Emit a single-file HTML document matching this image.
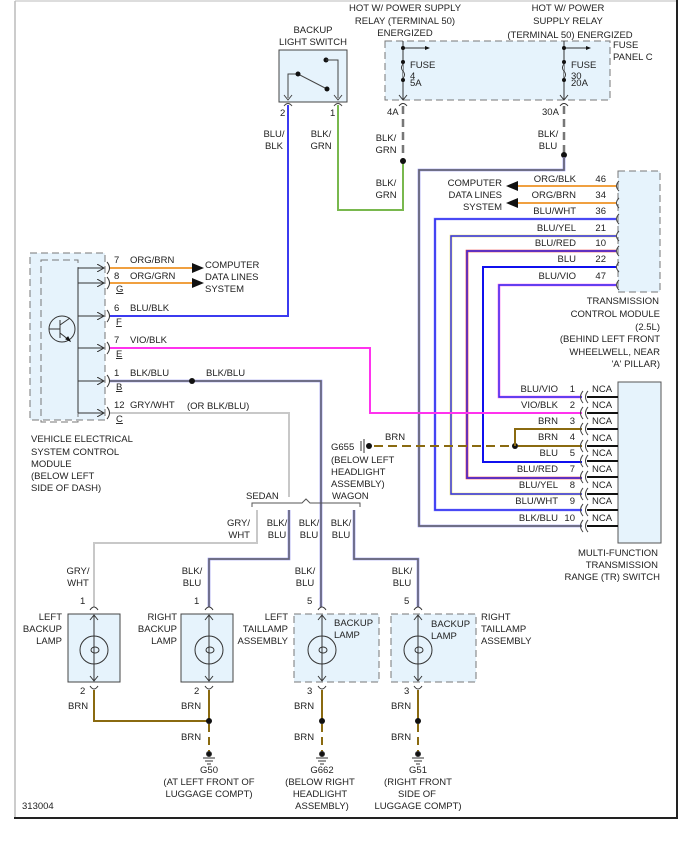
<!DOCTYPE html>
<html><head><meta charset="utf-8"><style>
html,body{margin:0;padding:0;background:#fff;}
svg{display:block;font-family:"Liberation Sans",sans-serif;font-size:9.5px;fill:#222;}
text{fill:#222;}
.r{text-anchor:end}.m{text-anchor:middle}
</style></head><body>
<svg width="692" height="845" viewBox="0 0 692 845" xmlns="http://www.w3.org/2000/svg">
<defs>
<marker id="ar" markerWidth="8" markerHeight="8" refX="7" refY="4" orient="auto" markerUnits="userSpaceOnUse"><path d="M0,0 L7,4 L0,8" fill="none" stroke="#333" stroke-width="1"/></marker>
</defs>
<line x1="15" y1="1" x2="677" y2="1" stroke="#bbb" stroke-width="1"/>
<line x1="15" y1="1" x2="15" y2="818" stroke="#bbb" stroke-width="1.5"/>
<line x1="677" y1="0" x2="677" y2="818" stroke="#222" stroke-width="2"/>
<line x1="14" y1="818" x2="678" y2="818" stroke="#222" stroke-width="2"/>

<text class="m" x="405" y="11">HOT W/ POWER SUPPLY</text>
<text class="m" x="405" y="24">RELAY (TERMINAL 50)</text>
<text class="m" x="405" y="36">ENERGIZED</text>
<text class="m" x="568" y="11">HOT W/ POWER</text>
<text class="m" x="568" y="24">SUPPLY RELAY</text>
<text class="m" x="570" y="38">(TERMINAL 50) ENERGIZED</text>
<text x="613" y="48">FUSE</text>
<text x="613" y="60">PANEL C</text>
<text class="m" x="313" y="33">BACKUP</text>
<text class="m" x="313" y="45">LIGHT SWITCH</text>

<rect x="279" y="50" width="68" height="52" fill="#e6f3fc" stroke="#444" stroke-width="1"/>
<path d="M288,98 V74 H298 L327,89" fill="none" stroke="#444"/>
<circle cx="298" cy="74" r="2.5" fill="#111"/><circle cx="327" cy="89" r="2.5" fill="#111"/>
<circle cx="326" cy="60" r="2.5" fill="#111"/>
<path d="M326,60 H338 V98" fill="none" stroke="#444"/>
<path d="M284,95 L288,100 L292,95 M334,95 L338,100 L342,95" fill="none" stroke="#444"/>
<path d="M284,106 Q288,101 292,106 M334,106 Q338,101 342,106" fill="none" stroke="#444"/>
<text x="280" y="116">2</text><text x="330" y="116">1</text>

<rect x="385" y="41" width="225" height="59" fill="#e6f3fc" stroke="#777" stroke-dasharray="7,4"/>
<g stroke="#333" fill="none">
<line x1="403" y1="41" x2="403" y2="100"/><line x1="403" y1="48" x2="425" y2="48"/>
<path d="M399,95 L403,100 L407,95"/>
<line x1="564" y1="41" x2="564" y2="100"/><line x1="564" y1="48" x2="586" y2="48"/>
<path d="M560,95 L564,100 L568,95"/>
<path d="M399,106 Q403,101 407,106 M560,106 Q564,101 568,106"/>
</g>
<path d="M425,46 L425,50 L430,48 Z M586,46 L586,50 L591,48Z" fill="#111"/>
<g fill="#111"><circle cx="403" cy="48" r="2"/><circle cx="403" cy="62" r="2"/><circle cx="403" cy="80" r="2"/>
<circle cx="564" cy="48" r="2"/><circle cx="564" cy="62" r="2"/><circle cx="564" cy="80" r="2"/></g>
<path d="M403,64 q-3,4 0,7 q3,4 0,7 M564,64 q-3,4 0,7 q3,4 0,7" fill="#e6f3fc" stroke="#333"/>
<text x="410" y="68">FUSE</text><text x="410" y="79">4</text><text x="410" y="86">5A</text>
<text x="571" y="68">FUSE</text><text x="571" y="79">30</text><text x="571" y="86">20A</text>
<text x="387" y="115">4A</text><text x="542" y="115">30A</text>

<path d="M288,105 V316 H110" fill="none" stroke="#3b3bf0" stroke-width="2"/>
<path d="M338,105 V210 H403 V162" fill="none" stroke="#79b84e" stroke-width="2"/>
<line x1="403" y1="106" x2="403" y2="160" stroke="#777" stroke-width="2.5" stroke-dasharray="8,5"/>
<circle cx="403" cy="161" r="3" fill="#111"/>
<line x1="564" y1="106" x2="564" y2="154" stroke="#777" stroke-width="2.5" stroke-dasharray="8,5"/>
<circle cx="564" cy="155" r="3" fill="#111"/>
<path d="M564,157 V170 H419 V526 H582" fill="none" stroke="#8a8af0" stroke-width="2.6"/>
<path d="M564,157 V170 H419 V526 H582" fill="none" stroke="#666" stroke-width="1.5"/>
<text class="m" x="274" y="137">BLU/</text><text class="m" x="274" y="149">BLK</text>
<text class="m" x="321" y="137">BLK/</text><text class="m" x="321" y="149">GRN</text>
<text class="m" x="386" y="141">BLK/</text><text class="m" x="386" y="153">GRN</text>
<text class="m" x="386" y="186">BLK/</text><text class="m" x="386" y="198">GRN</text>
<text class="m" x="548" y="137">BLK/</text><text class="m" x="548" y="149">BLU</text>

<rect x="618" y="171" width="42" height="121" fill="#e6f3fc" stroke="#777" stroke-dasharray="7,4"/>
<g fill="none" stroke="#444">
<path d="M619,181 q-5,5 0,10 M619,198 q-5,5 0,10 M619,214 q-5,5 0,10 M619,231 q-5,5 0,10 M619,246 q-5,5 0,10 M619,262 q-5,5 0,10 M619,280 q-5,5 0,10"/>
</g>
<path d="M616,186 H518 M616,203 H518" stroke="#f0a040" stroke-width="2" fill="none"/>
<path d="M518,181 L506,186 L518,191Z M518,198 L506,203 L518,208Z" fill="#111"/>
<text class="r" x="502" y="186">COMPUTER</text><text class="r" x="502" y="198">DATA LINES</text><text class="r" x="502" y="210">SYSTEM</text>
<path d="M616,219 H435 V510 H582" fill="none" stroke="#9999ff" stroke-width="2.6"/>
<path d="M616,219 H435 V510 H582" fill="none" stroke="#2f2ff0" stroke-width="1.6"/>
<path d="M616,236 H451 V494 H582" fill="none" stroke="#e8e070" stroke-width="2.6"/>
<path d="M616,236 H451 V494 H582" fill="none" stroke="#3030f0" stroke-width="1.4"/>
<path d="M616,251 H467 V478 H582" fill="none" stroke="#ee3030" stroke-width="2.6"/>
<path d="M616,251 H467 V478 H582" fill="none" stroke="#3030f0" stroke-width="1.4"/>
<path d="M616,267 H483 V462 H582" fill="none" stroke="#1010ee" stroke-width="2"/>
<path d="M616,285 H499 V397 H582" fill="none" stroke="#ff66ee" stroke-width="2.6"/>
<path d="M616,285 H499 V397 H582" fill="none" stroke="#3030f0" stroke-width="1.4"/>
<text class="r" x="576" y="182">ORG/BLK</text><text class="r" x="606" y="182">46</text>
<text class="r" x="576" y="198">ORG/BRN</text><text class="r" x="606" y="198">34</text>
<text class="r" x="576" y="214">BLU/WHT</text><text class="r" x="606" y="214">36</text>
<text class="r" x="576" y="231">BLU/YEL</text><text class="r" x="606" y="231">21</text>
<text class="r" x="576" y="246">BLU/RED</text><text class="r" x="606" y="246">10</text>
<text class="r" x="576" y="262">BLU</text><text class="r" x="606" y="262">22</text>
<text class="r" x="576" y="279">BLU/VIO</text><text class="r" x="606" y="279">47</text>
<text class="r" x="659" y="304">TRANSMISSION</text>
<text class="r" x="660" y="317">CONTROL MODULE</text>
<text class="r" x="660" y="330">(2.5L)</text>
<text class="r" x="660" y="342">(BEHIND LEFT FRONT</text>
<text class="r" x="660" y="355">WHEELWELL, NEAR</text>
<text class="r" x="660" y="367">'A' PILLAR)</text>

<rect x="30" y="253" width="75" height="167" fill="#e6f3fc" stroke="#777" stroke-dasharray="7,4"/>
<rect x="41" y="260" width="37" height="162" fill="none" stroke="#777" stroke-dasharray="7,4"/>
<circle cx="62" cy="329" r="13" fill="none" stroke="#333"/>
<path d="M49,329 H60 M60,320 V338 M60,325 L70,318 M60,333 L69,340" stroke="#333" fill="none"/>
<path d="M66,339 L70,341 L68,337Z" fill="#111" stroke="#111"/>
<g stroke="#333" fill="none" marker-end="url(#ar)">
<path d="M78,283 V268 H104"/><path d="M78,316 V283 H104"/><path d="M78,348 V316 H104"/>
<path d="M78,381 V348 H104"/><path d="M78,413 V381 H104"/><path d="M78,413 H104"/>
</g>
<g stroke="#333" fill="none">
<path d="M107,262 q5,6 0,12 M107,277 q5,6 0,12 M107,310 q5,6 0,12 M107,342 q5,6 0,12 M107,375 q5,6 0,12 M107,407 q5,6 0,12"/>
</g>
<path d="M110,268 H192 M110,283 H192" stroke="#f0a040" stroke-width="2" fill="none"/>
<path d="M192,263 L204,268 L192,273Z M192,278 L204,283 L192,288Z" fill="#111"/>
<text x="205" y="268">COMPUTER</text><text x="205" y="280">DATA LINES</text><text x="205" y="292">SYSTEM</text>
<text x="114" y="263">7</text><text x="130" y="263">ORG/BRN</text>
<text x="114" y="279">8</text><text x="130" y="279">ORG/GRN</text>
<text x="116" y="292" text-decoration="underline">G</text>
<text x="114" y="311">6</text><text x="130" y="311">BLU/BLK</text>
<text x="116" y="325" text-decoration="underline">F</text>
<text x="114" y="343">7</text><text x="130" y="343">VIO/BLK</text>
<text x="116" y="357" text-decoration="underline">E</text>
<text x="114" y="376">1</text><text x="130" y="376">BLK/BLU</text>
<text x="206" y="376">BLK/BLU</text>
<text x="116" y="390" text-decoration="underline">B</text>
<text x="114" y="408">12</text><text x="130" y="408">GRY/WHT</text>
<text x="187" y="409">(OR BLK/BLU)</text>
<text x="116" y="422" text-decoration="underline">C</text>
<text x="31" y="442">VEHICLE ELECTRICAL</text>
<text x="31" y="455">SYSTEM CONTROL</text>
<text x="31" y="467">MODULE</text>
<text x="31" y="479">(BELOW LEFT</text>
<text x="31" y="491">SIDE OF DASH)</text>

<path d="M110,348 H370 V413 H582" fill="none" stroke="#ff33ee" stroke-width="2"/>
<path d="M110,381 H321 V607" fill="none" stroke="#8a8af0" stroke-width="2.6"/>
<path d="M110,381 H321 V607" fill="none" stroke="#666" stroke-width="1.4"/>
<circle cx="192" cy="381" r="3" fill="#111"/>
<path d="M110,413 H289 V497" fill="none" stroke="#c8c8c8" stroke-width="2"/>

<text x="331" y="450">G655</text>
<path d="M361,441 V451 M364,439 V453" stroke="#333"/>
<circle cx="369" cy="446" r="3" fill="#111"/>
<line x1="374" y1="446" x2="513" y2="446" stroke="#8a6a10" stroke-width="2" stroke-dasharray="9,5"/>
<circle cx="515" cy="446" r="3" fill="#111"/>
<path d="M518,446 H582 M515,446 V429 H582" fill="none" stroke="#8a6a10" stroke-width="2"/>
<text x="385" y="440">BRN</text>
<text x="331" y="463">(BELOW LEFT</text><text x="331" y="475">HEADLIGHT</text><text x="331" y="487">ASSEMBLY)</text>
<text x="332" y="499">WAGON</text>
<text x="246" y="499">SEDAN</text>

<rect x="618" y="382" width="43" height="161" fill="#e6f3fc" stroke="#555"/>
<g stroke="#111" stroke-width="2">
<line x1="587" y1="397" x2="618" y2="397"/><line x1="587" y1="413" x2="618" y2="413"/><line x1="587" y1="429" x2="618" y2="429"/>
<line x1="587" y1="446" x2="618" y2="446"/><line x1="587" y1="461" x2="618" y2="461"/><line x1="587" y1="477" x2="618" y2="477"/>
<line x1="587" y1="494" x2="618" y2="494"/><line x1="587" y1="510" x2="618" y2="510"/><line x1="587" y1="526" x2="618" y2="526"/>
</g>
<g fill="none" stroke="#444">
<path d="M583,391 q-5,6 0,12 M588,391 q-5,6 0,12 M583,407 q-5,6 0,12 M588,407 q-5,6 0,12 M583,423 q-5,6 0,12 M588,423 q-5,6 0,12 M583,440 q-5,6 0,12 M588,440 q-5,6 0,12 M583,455 q-5,6 0,12 M588,455 q-5,6 0,12 M583,471 q-5,6 0,12 M588,471 q-5,6 0,12 M583,488 q-5,6 0,12 M588,488 q-5,6 0,12 M583,504 q-5,6 0,12 M588,504 q-5,6 0,12 M583,520 q-5,6 0,12 M588,520 q-5,6 0,12"/>
</g>
<text class="r" x="558" y="392">BLU/VIO</text><text class="r" x="575" y="392">1</text><text x="592" y="392">NCA</text>
<text class="r" x="558" y="408">VIO/BLK</text><text class="r" x="575" y="408">2</text><text x="592" y="408">NCA</text>
<text class="r" x="558" y="424">BRN</text><text class="r" x="575" y="424">3</text><text x="592" y="424">NCA</text>
<text class="r" x="558" y="440">BRN</text><text class="r" x="575" y="440">4</text><text x="592" y="441">NCA</text>
<text class="r" x="558" y="456">BLU</text><text class="r" x="575" y="456">5</text><text x="592" y="456">NCA</text>
<text class="r" x="558" y="472">BLU/RED</text><text class="r" x="575" y="472">7</text><text x="592" y="472">NCA</text>
<text class="r" x="558" y="488">BLU/YEL</text><text class="r" x="575" y="488">8</text><text x="592" y="488">NCA</text>
<text class="r" x="558" y="504">BLU/WHT</text><text class="r" x="575" y="504">9</text><text x="592" y="504">NCA</text>
<text class="r" x="558" y="521">BLK/BLU</text><text class="r" x="575" y="521">10</text><text x="592" y="521">NCA</text>
<text class="r" x="658" y="556">MULTI-FUNCTION</text>
<text class="r" x="658" y="568">TRANSMISSION</text>
<text class="r" x="660" y="580">RANGE (TR) SWITCH</text>

<path d="M252,507 V503 H302 L306,499 L310,503 H360 V507" fill="none" stroke="#555"/>

<path d="M257,510 V543 H94 V607" fill="none" stroke="#c8c8c8" stroke-width="2"/>
<path d="M289,510 V559 H209 V607" fill="none" stroke="#8a8af0" stroke-width="2.6"/>
<path d="M289,510 V559 H209 V607" fill="none" stroke="#666" stroke-width="1.4"/>
<path d="M354,510 V559 H418 V607" fill="none" stroke="#8a8af0" stroke-width="2.6"/>
<path d="M354,510 V559 H418 V607" fill="none" stroke="#666" stroke-width="1.4"/>
<text class="r" x="250" y="526">GRY/</text><text class="r" x="250" y="538">WHT</text>
<text class="m" x="277" y="526">BLK/</text><text class="m" x="277" y="538">BLU</text>
<text class="m" x="309" y="526">BLK/</text><text class="m" x="309" y="538">BLU</text>
<text class="m" x="341" y="526">BLK/</text><text class="m" x="341" y="538">BLU</text>
<text class="m" x="78" y="574">GRY/</text><text class="m" x="78" y="586">WHT</text>
<text class="m" x="192" y="574">BLK/</text><text class="m" x="192" y="586">BLU</text>
<text class="m" x="305" y="574">BLK/</text><text class="m" x="305" y="586">BLU</text>
<text class="m" x="402" y="574">BLK/</text><text class="m" x="402" y="586">BLU</text>

<rect x="68" y="614" width="52" height="68" fill="#e6f3fc" stroke="#444"/>
<rect x="181" y="614" width="52" height="68" fill="#e6f3fc" stroke="#444"/>
<rect x="294" y="614" width="85" height="68" fill="#e6f3fc" stroke="#777" stroke-dasharray="7,4"/>
<rect x="391" y="614" width="85" height="68" fill="#e6f3fc" stroke="#777" stroke-dasharray="7,4"/>
<g fill="none" stroke="#333">
<g id="lp">
<circle cx="94" cy="650" r="14"/>
<line x1="94" y1="615" x2="94" y2="681"/>
<path d="M90,620 L94,615 L98,620 M90,676 L94,681 L98,676"/>
<path d="M90,610 Q94,604 98,610 M90,686 Q94,692 98,686"/>
<ellipse cx="95" cy="650" rx="4" ry="3"/>
</g>
<use href="#lp" x="115"/><use href="#lp" x="228"/><use href="#lp" x="324"/>
</g>
<text x="80" y="604">1</text><text x="194" y="604">1</text><text x="307" y="604">5</text><text x="404" y="604">5</text>
<text x="80" y="694">2</text><text x="194" y="694">2</text><text x="307" y="694">3</text><text x="404" y="694">3</text>
<text class="r" x="62" y="620">LEFT</text><text class="r" x="62" y="632">BACKUP</text><text class="r" x="62" y="644">LAMP</text>
<text class="r" x="177" y="620">RIGHT</text><text class="r" x="177" y="632">BACKUP</text><text class="r" x="177" y="644">LAMP</text>
<text class="r" x="288" y="620">LEFT</text><text class="r" x="288" y="632">TAILLAMP</text><text class="r" x="288" y="644">ASSEMBLY</text>
<text x="334" y="626">BACKUP</text><text x="334" y="638">LAMP</text>
<text x="431" y="627">BACKUP</text><text x="431" y="639">LAMP</text>
<text x="481" y="620">RIGHT</text><text x="481" y="632">TAILLAMP</text><text x="481" y="644">ASSEMBLY</text>

<path d="M94,690 V721 H209 M209,690 V721 M322,690 V721 M418,690 V721" fill="none" stroke="#8a6a10" stroke-width="2"/>
<g fill="#111"><circle cx="209" cy="721" r="3"/><circle cx="322" cy="721" r="3"/><circle cx="418" cy="721" r="3"/></g>
<path d="M209,724 V752 M322,724 V752 M418,724 V752" stroke="#8a6a10" stroke-width="2" stroke-dasharray="8,5"/>
<g fill="#111" stroke="#333">
<circle cx="209" cy="754" r="2.5"/><path d="M203,758 H215 M205,761 H213 M207,764 H211"/>
<circle cx="322" cy="754" r="2.5"/><path d="M316,758 H328 M318,761 H326 M320,764 H324"/>
<circle cx="418" cy="754" r="2.5"/><path d="M412,758 H424 M414,761 H422 M416,764 H420"/>
</g>
<text x="68" y="709">BRN</text><text x="181" y="709">BRN</text><text x="294" y="709">BRN</text><text x="391" y="709">BRN</text>
<text x="181" y="740">BRN</text><text x="294" y="740">BRN</text><text x="391" y="740">BRN</text>
<text class="m" x="209" y="773">G50</text><text class="m" x="209" y="785">(AT LEFT FRONT OF</text><text class="m" x="209" y="797">LUGGAGE COMPT)</text>
<text class="m" x="322" y="773">G662</text><text class="m" x="320" y="785">(BELOW RIGHT</text><text class="m" x="320" y="797">HEADLIGHT</text><text class="m" x="322" y="809">ASSEMBLY)</text>
<text class="m" x="418" y="773">G51</text><text class="m" x="418" y="785">(RIGHT FRONT</text><text class="m" x="417" y="797">SIDE OF</text><text class="m" x="418" y="809">LUGGAGE COMPT)</text>
<text x="22" y="809">313004</text>
</svg>
</body></html>
